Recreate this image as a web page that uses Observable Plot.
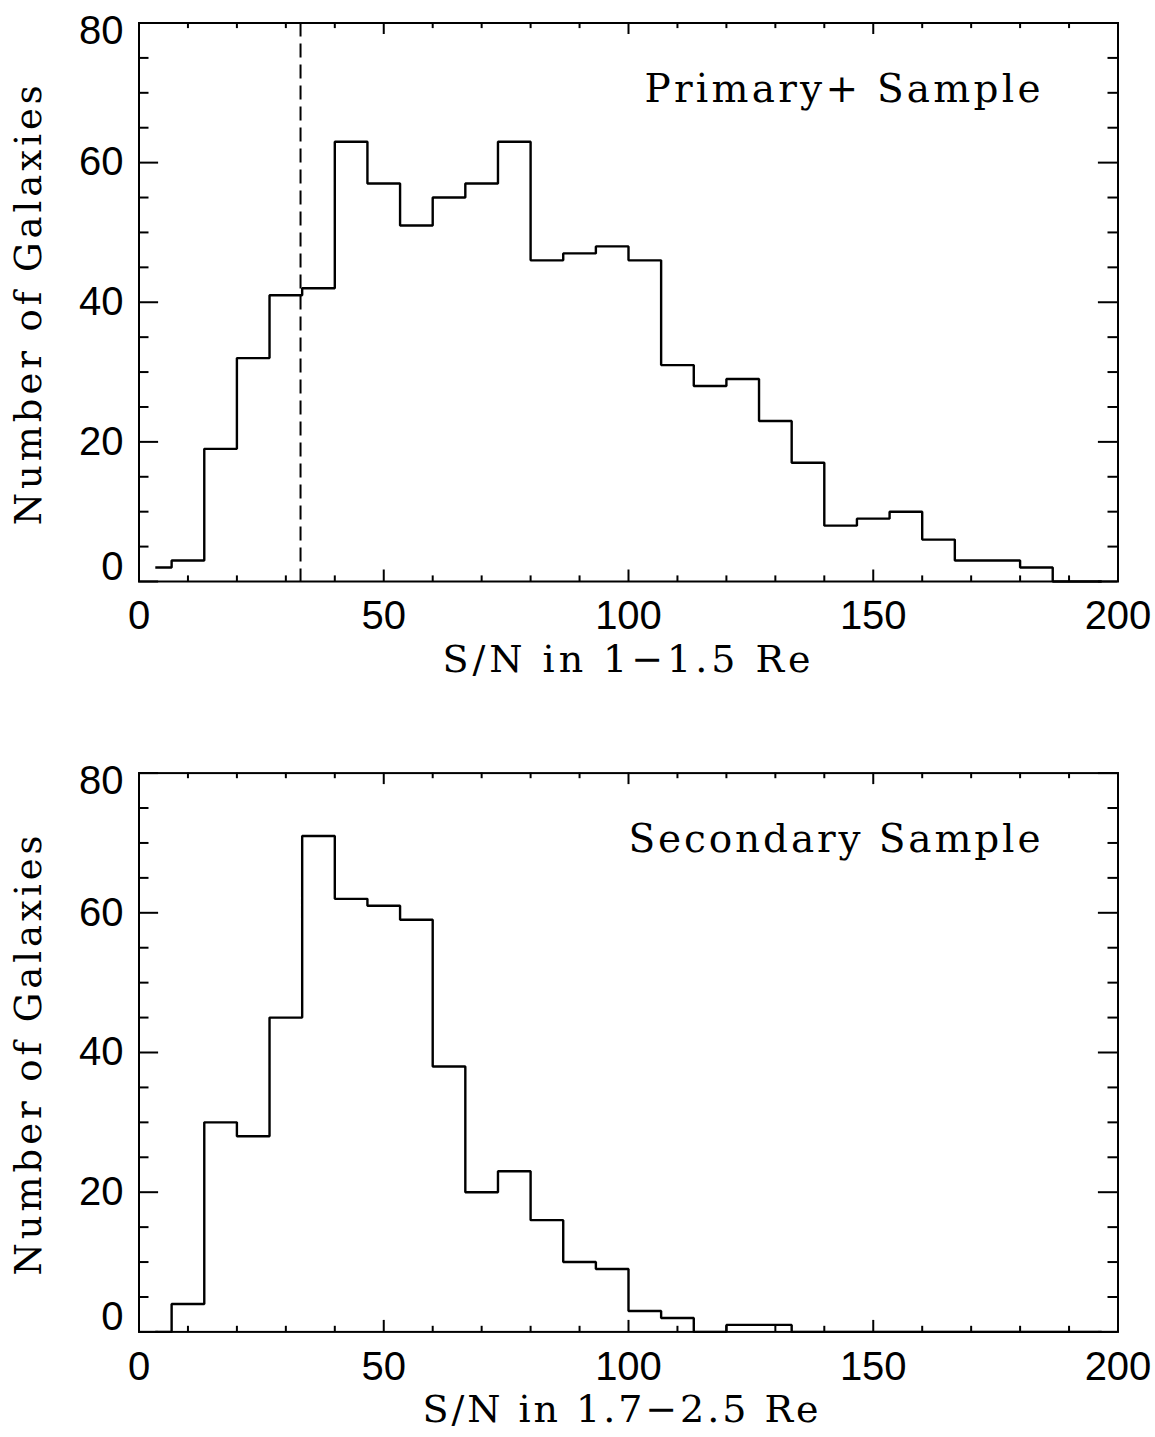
<!DOCTYPE html>
<html><head><meta charset="utf-8">
<script src="https://cdn.jsdelivr.net/npm/d3@7"></script>
<script src="https://cdn.jsdelivr.net/npm/@observablehq/plot@0.6"></script>
<style>
body{margin:0;background:#fff;width:1155px;}
#chart svg{display:block}
</style></head><body><div id="chart"></div>
<script>
// ---- data ----
const binCenters = [3.33,10,16.67,23.33,30,36.67,43.33,50,56.67,63.33,70,76.67,83.33,90,96.67,103.33,110,116.67,123.33,130,136.67,143.33,150,156.67,163.33,170,176.67,183.33,190,196.67];
const primaryCounts   = [2,3,19,32,41,42,63,57,51,55,57,63,46,47,48,46,31,28,29,23,17,8,9,10,6,3,3,2,0,0];
const secondaryCounts = [0,4,30,28,45,71,62,61,59,38,20,23,16,10,9,3,2,0,1,1,0,0,0,0,0,0,0,0,0,0];
const snCut = [33];
const xMajorTicks = [0,50,100,150,200];
const xMinorTicks = [10,20,30,40,60,70,80,90,110,120,130,140,160,170,180,190];
const yMajorTicks = [0,20,40,60,80];
const yMinorTicks = [5,10,15,25,30,35,45,50,55,65,70,75];
const panelLabels = ["Primary+ Sample","Secondary Sample"];
const xTitles = ["S/N in 1\u22121.5 Re","S/N in 1.7\u22122.5 Re"];
const yTitle = "Number of Galaxies";

// ---- layout ----
const W = 1155, ML = 138.5, MR = 37.5;
const layouts = [
  {height: 700, marginTop: 22.5, marginBottom: 119, xTitleDx: -2, xTitleLen: 368, labelLen: 396},
  {height: 737, marginTop: 72.6, marginBottom: 105.6, xTitleDx: -8, xTitleLen: 396, labelLen: 412}
];
const yTitleLen = 440;
const SERIF = "DejaVu Serif", SANS = "Liberation Sans";

function panel(counts, label, xTitle, showCut, lay) {
  const fw = W - ML - MR;
  const fh = lay.height - lay.marginTop - lay.marginBottom;
  const data = binCenters.map((x, i) => ({x, n: counts[i]}));
  const tickStyle = {stroke: "black", strokeWidth: 2};
  const marks = [
    Plot.ruleX(xMajorTicks, {x: d => d, insetTop: fh - 11.5, ...tickStyle}),
    Plot.ruleX(xMajorTicks, {x: d => d, insetBottom: fh - 11.5, ...tickStyle}),
    Plot.ruleX(xMinorTicks, {x: d => d, insetTop: fh - 5.6, ...tickStyle}),
    Plot.ruleX(xMinorTicks, {x: d => d, insetBottom: fh - 5.6, ...tickStyle}),
    Plot.ruleY(yMajorTicks, {y: d => d, insetRight: fw - 19.6, ...tickStyle}),
    Plot.ruleY(yMajorTicks, {y: d => d, insetLeft: fw - 19.6, ...tickStyle}),
    Plot.ruleY(yMinorTicks, {y: d => d, insetRight: fw - 10, ...tickStyle}),
    Plot.ruleY(yMinorTicks, {y: d => d, insetLeft: fw - 10, ...tickStyle}),
    Plot.line(data, {x: "x", y: "n", curve: "step", stroke: "black", strokeWidth: 2.4, strokeLinejoin: "miter", strokeLinecap: "butt"}),
    Plot.frame({stroke: "black", strokeWidth: 2}),
    // y tick labels
    Plot.text(yMajorTicks.filter(v => v > 0 && v < 80), {y: d => d, frameAnchor: "left", text: d => String(d), dx: -15.5, textAnchor: "end", lineAnchor: "middle", fontFamily: SANS, fontSize: 40, fill: "black"}),
    Plot.text(yMajorTicks.filter(v => v === 80), {y: d => d, frameAnchor: "left", text: d => String(d), dx: -15.5, dy: 8.5, textAnchor: "end", lineAnchor: "middle", fontFamily: SANS, fontSize: 40, fill: "black"}),
    Plot.text(yMajorTicks.filter(v => v === 0), {y: d => d, frameAnchor: "left", text: d => String(d), dx: -15.5, dy: -14.4, textAnchor: "end", lineAnchor: "middle", fontFamily: SANS, fontSize: 40, fill: "black"}),
    // x tick labels
    Plot.text(xMajorTicks, {x: d => d, frameAnchor: "bottom", text: d => String(d), dy: 35, textAnchor: "middle", lineAnchor: "middle", fontFamily: SANS, fontSize: 40, fill: "black"}),
    // axis titles
    Plot.text([xTitle], {frameAnchor: "bottom", text: d => d, dx: lay.xTitleDx, dy: 78.3, textAnchor: "middle", lineAnchor: "middle", fontFamily: SERIF, fontSize: 38, fill: "black"}),
    Plot.text([yTitle], {frameAnchor: "left", text: d => d, rotate: -90, dx: -110.3, dy: 3, textAnchor: "middle", lineAnchor: "middle", fontFamily: SERIF, fontSize: 37, fill: "black"}),
    // panel label
    Plot.text([label], {frameAnchor: "top-right", text: d => d, dx: -77.5, dy: 66.7, textAnchor: "end", lineAnchor: "middle", fontFamily: SERIF, fontSize: 39, fill: "black"})
  ];
  if (showCut) marks.push(Plot.ruleX(snCut, {x: d => d, stroke: "black", strokeWidth: 2, strokeDasharray: "14,7"}));
  const svg = Plot.plot({
    width: W, height: lay.height,
    marginLeft: ML, marginRight: MR, marginTop: lay.marginTop, marginBottom: lay.marginBottom,
    x: {domain: [0, 200], axis: null},
    y: {domain: [0, 80], axis: null},
    style: {background: "white", color: "black", fontFamily: SERIF, overflow: "visible"},
    marks
  });
  const s = d3.select(svg);
  const fit = (txt, len) => s.selectAll("text").filter(function () { return this.textContent === txt; })
    .attr("textLength", len).attr("lengthAdjust", "spacing");
  fit(xTitle, lay.xTitleLen);
  fit(yTitle, yTitleLen);
  fit(label, lay.labelLen);
  return svg;
}

const root = document.getElementById("chart");
root.appendChild(panel(primaryCounts, panelLabels[0], xTitles[0], true, layouts[0]));
root.appendChild(panel(secondaryCounts, panelLabels[1], xTitles[1], false, layouts[1]));
</script>
</body></html>
